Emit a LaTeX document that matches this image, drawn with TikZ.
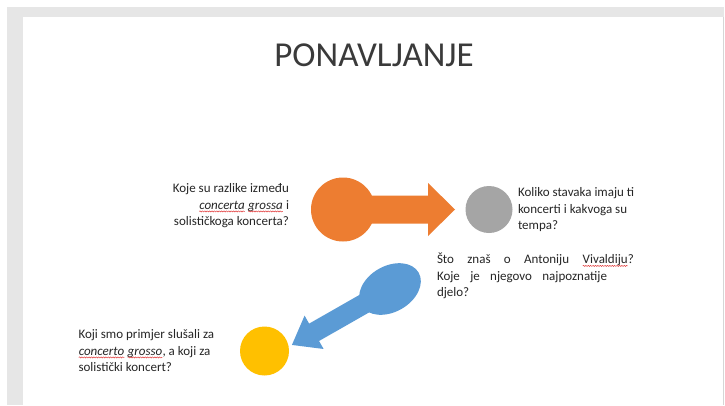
\documentclass[tikz,border=0pt]{standalone}
\usepackage{fontspec}
\setmainfont{Carlito}
\usetikzlibrary{decorations.pathmorphing,shapes.geometric}
\definecolor{orangeA}{HTML}{ED7D31}
\definecolor{greyA}{HTML}{A5A5A5}
\definecolor{blueA}{HTML}{5B9BD5}
\definecolor{goldA}{HTML}{FFC000}
\definecolor{frameA}{HTML}{E6E6E6}
\definecolor{frameB}{HTML}{D6D6D6}
\definecolor{inkA}{HTML}{262626}
\definecolor{titleA}{HTML}{3A3A3A}
\definecolor{squigA}{HTML}{E23B3B}
\newcommand\sq[1]{\tikz[baseline=(w.base)]{\node[inner sep=0pt,outer sep=0pt](w){#1};\draw[squigA,line width=0.5pt,decorate,decoration={snake,amplitude=0.55pt,segment length=2.4pt}]([yshift=-2.4pt]w.base west)--([yshift=-2.4pt]w.base east);}}
\begin{document}
\begin{tikzpicture}[x=1pt,y=-1pt,
  txt/.style={inner sep=0pt,outer sep=0pt,text=inkA,font=\fontsize{13}{16.5}\selectfont},
  dot/.style={circle,inner sep=0pt,outer sep=0pt}]
\useasboundingbox (0,0) rectangle (725,405);
% slide frame
\fill[white] (0,0) rectangle (725,405);
\fill[frameA] (7,7) rectangle (724,405);
\fill[white] (23,17) rectangle (723,405);
\draw[frameB,line width=0.6pt] (723.5,17) -- (723.5,405);
% title
\node[txt,font=\fontsize{35}{42}\selectfont,text=titleA,anchor=base] (title) at (374,66) {PONAVLJANJE};
% orange circle with arrow
\node[dot,fill=orangeA,minimum size=64pt] (oc) at (343,209.5) {};
\coordinate (otip) at (455,209.5);
\fill[orangeA] (oc.center) ++(0,-14) -- (428,195.5) -- (428,183) -- (otip) -- (428,236) -- (428,223.5) -- (343,223.5) -- cycle;
% grey circle
\node[dot,fill=greyA,minimum size=47pt] (gc) at (489,209.5) {};
% blue oval with arrow
\node[ellipse,fill=blueA,inner sep=0pt,outer sep=0pt,minimum width=66pt,minimum height=46pt,rotate=29.7] (be) at (390,289) {};
\begin{scope}[shift={(be.center)},rotate=209.7]
  \coordinate (btip) at (112.9,0);
  \fill[blueA] (0,-10) -- (87.4,-10) -- (87.4,-19.2) -- (btip) -- (87.4,19.2) -- (87.4,10) -- (0,10) -- cycle;
\end{scope}
% yellow circle
\node[dot,fill=goldA,minimum size=49pt] (yc) at (264.5,351) {};
% texts
\node[txt,align=right,anchor=base east] (t1) at (289,225.5)
  {Koje su razlike između\\ \sq{\textit{concerta}} \sq{\textit{grossa}} i\\ solističkoga koncerta?};
\node[txt,align=left,anchor=base west] (t2) at (518,229.5)
  {Koliko stavaka imaju ti\\ koncerti i kakvoga su\\ tempa?};
\node[txt,align=left,anchor=base west] (t3) at (437,296.5)
  {\makebox[197pt][s]{Što znaš o Antoniju \sq{Vivaldiju}?}\\ \makebox[170pt][s]{Koje je njegovo najpoznatije}\\ djelo?};
\node[txt,align=left,anchor=base west] (t4) at (78.5,371.5)
  {Koji smo primjer slušali za\\ \sq{\textit{concerto}} \sq{\textit{grosso}}, a koji za\\ solistički koncert?};
\end{tikzpicture}
\end{document}
